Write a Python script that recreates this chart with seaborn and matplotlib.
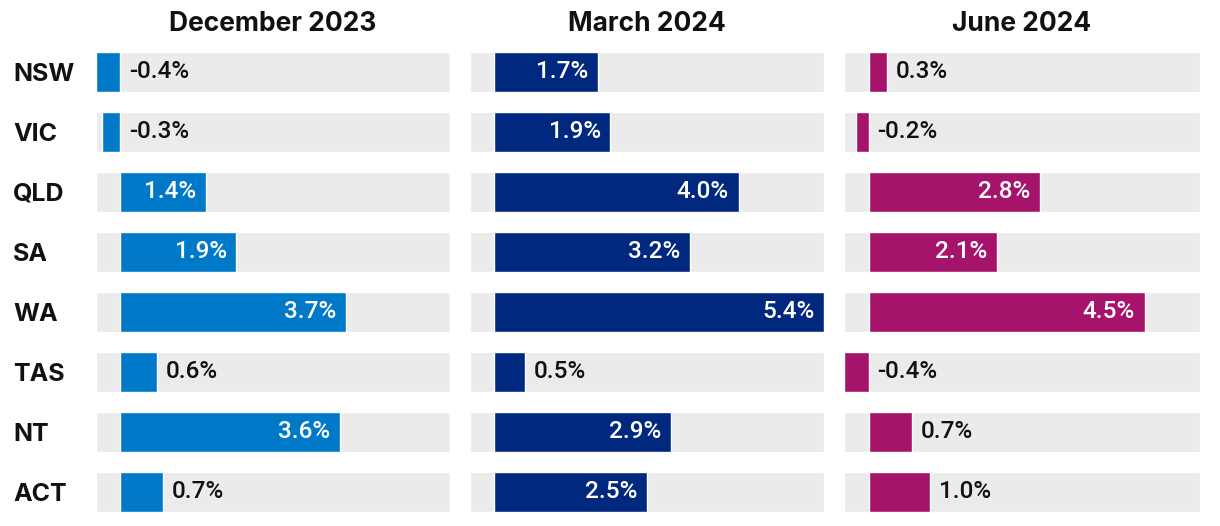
import matplotlib
matplotlib.use("Agg")
import matplotlib.pyplot as plt
import seaborn as sns
import pandas as pd

states = ["NSW", "VIC", "QLD", "SA", "WA", "TAS", "NT", "ACT"]
periods = ["December 2023", "March 2024", "June 2024"]
dec_2023 = [-0.4, -0.3, 1.4, 1.9, 3.7, 0.6, 3.6, 0.7]
mar_2024 = [1.7, 1.9, 4.0, 3.2, 5.4, 0.5, 2.9, 2.5]
jun_2024 = [0.3, -0.2, 2.8, 2.1, 4.5, -0.4, 0.7, 1.0]
colors = ["#0079C8", "#00287E", "#A6136A"]

XMIN, XMAX = -0.4, 5.4
GREY = "#EBEBEB"
FONT = ["Inter", "DejaVu Sans"]
VALFONT = ["Roboto", "DejaVu Sans"]

sns.set_theme(style="white")
plt.rcParams["font.family"] = FONT

fig = plt.figure(figsize=(12.2, 5.26), dpi=100)
W, H = 1220, 526
lefts = [96, 470, 844]
widths = [354, 354, 356]
ax_bottom = (H - 522) / H
ax_height = 480 / H

series = [dec_2023, mar_2024, jun_2024]
for i, (vals, period, col) in enumerate(zip(series, periods, colors)):
    ax = fig.add_axes([lefts[i] / W, ax_bottom, widths[i] / W, ax_height])
    df = pd.DataFrame({"state": states, "value": vals})
    # grey track behind each bar
    ax.barh(range(len(states)), [XMAX - XMIN] * len(states), left=XMIN,
            height=0.667, color=GREY, zorder=0)
    sns.barplot(data=df, x="value", y="state", orient="h", color=col,
                width=0.667, saturation=1, ax=ax, zorder=2)
    ax.set_xlim(XMIN, XMAX)
    ax.set_ylim(len(states) - 0.5, -0.5)
    ax.set_xlabel("")
    ax.set_ylabel("")
    ax.set_xticks([])
    for s in ax.spines.values():
        s.set_visible(False)
    if i == 0:
        ax.set_yticks(range(len(states)))
        ax.set_yticklabels(states, fontsize=18, fontweight="bold", color="#111111")
        ax.tick_params(axis="y", length=0, pad=0)
        for lab in ax.get_yticklabels():
            lab.set_transform(matplotlib.transforms.blended_transform_factory(
                fig.transFigure, ax.transData))
            lab.set_x(13 / W)
            lab.set_horizontalalignment("left")
    else:
        ax.set_yticks([])
    ax.set_title(period, fontsize=19, fontweight="bold", color="#111111", pad=8)
    for j, v in enumerate(vals):
        txt = f"{v:.1f}%"
        if v >= 1.2:
            ax.annotate(txt, (v, j), xytext=(-7, 0), textcoords="offset points",
                        ha="right", va="center", color="white", fontsize=17.5,
                        fontweight="medium", family=VALFONT)
        else:
            x0 = max(v, 0)
            ax.annotate(txt, (x0, j), xytext=(6.5, 0), textcoords="offset points",
                        ha="left", va="center", color="#111111", fontsize=17.5,
                        fontweight="medium", family=VALFONT)

fig.savefig("out.png", dpi=100, facecolor="white")
